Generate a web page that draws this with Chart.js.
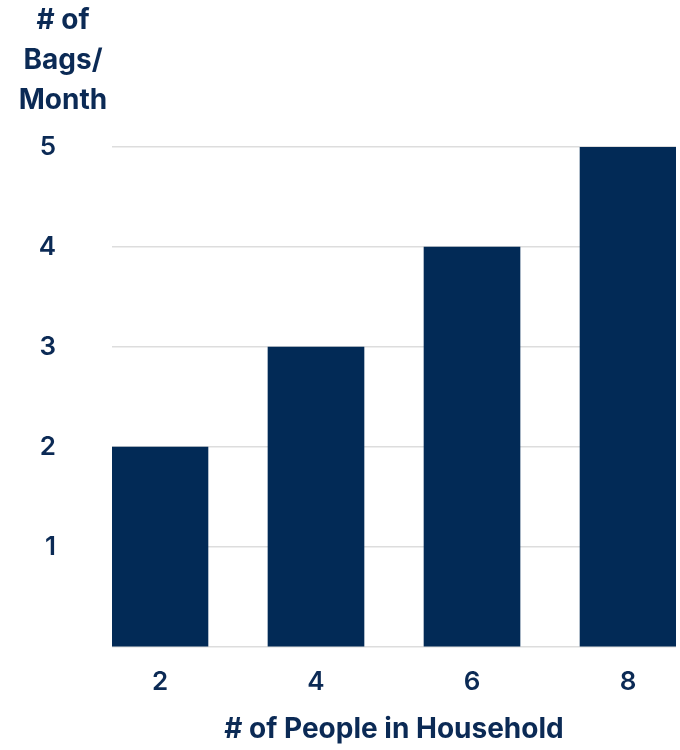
<!DOCTYPE html>
<html><head><meta charset="utf-8">
<script src="https://cdn.jsdelivr.net/npm/chart.js"></script>
<style>html,body{margin:0;padding:0;background:#fff}#w{width:680px;height:750px}</style>
</head><body><div id="w"><canvas id="c"></canvas></div>
<script>
const people = [2, 4, 6, 8];
const bags = [2, 3, 4, 5];
const yTicks = [1, 2, 3, 4, 5];
const yTitle = ['# of', 'Bags/', 'Month'];
const xTitle = '# of People in Household';
const navy = '#022a56';
const txt = '#0b2a55';
const font = 'Inter';

const titlePlugin = {
  id: 'ytitle',
  afterDraw(chart) {
    const ctx = chart.ctx;
    ctx.save();
    ctx.fillStyle = txt;
    ctx.font = 'bold 28px ' + font;
    ctx.textAlign = 'center';
    ctx.textBaseline = 'middle';
    yTitle.forEach((t, i) => ctx.fillText(t, 63, 21 + i * 40));
    ctx.restore();
  }
};

new Chart(document.getElementById('c'), {
  type: 'bar',
  data: { datasets: [{ data: people.map((p, i) => ({ x: p, y: bags[i] })), backgroundColor: navy, barThickness: 96 }] },
  plugins: [titlePlugin],
  options: {
    responsive: true, maintainAspectRatio: false, animation: false,
    layout: { padding: { top: 147, right: 4, bottom: 0, left: 0 } },
    plugins: { legend: { display: false }, tooltip: { enabled: false } },
    scales: {
      x: {
        type: 'linear', min: 1.385, max: 8.615, offset: false,
        afterBuildTicks: s => { s.ticks = people.map(v => ({ value: v })); },
        grid: { display: false }, border: { display: false },
        ticks: { color: txt, font: { family: font, size: 26, weight: '600' }, padding: 12 },
        title: { display: true, text: xTitle, color: txt, font: { family: font, size: 28, weight: 'bold' }, padding: { top: 14, bottom: 4 } },
        afterFit: s => { s.height = 103; }
      },
      y: {
        min: 0, max: 5,
        afterBuildTicks: s => { s.ticks = [0].concat(yTicks).map(v => ({ value: v })); },
        grid: { color: '#dddddd', lineWidth: 1.5, drawTicks: false }, border: { display: false },
        ticks: { color: txt, font: { family: font, size: 26, weight: '600' }, padding: 56,
                 callback: v => v === 0 ? '' : v },
        afterFit: s => { s.width = 112; }
      }
    }
  }
});
</script></body></html>
